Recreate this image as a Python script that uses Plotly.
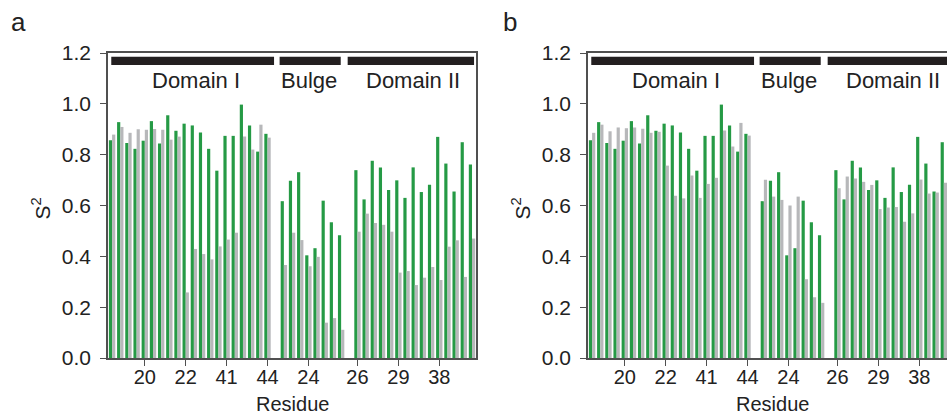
import plotly.graph_objects as go

# ---------------- data ----------------
segments = ["Domain I", "Bulge", "Domain II"]

# S2 values, green series (same in both panels)
green_domain_I = [0.857, 0.928, 0.846, 0.823, 0.855, 0.932, 0.844, 0.955, 0.894, 0.922,
                  0.915, 0.887, 0.823, 0.737, 0.874, 0.874, 0.997, 0.915, 0.812, 0.882]
green_bulge = [0.617, 0.697, 0.731, 0.404, 0.432, 0.619, 0.534, 0.483]
green_domain_II = [0.739, 0.624, 0.776, 0.750, 0.661, 0.699, 0.630, 0.750, 0.653, 0.682,
                   0.870, 0.765, 0.655, 0.849, 0.761]

# gray series, panel a
gray_a_domain_I = [0.879, 0.909, 0.886, 0.900, 0.898, 0.901, 0.898, 0.859, 0.871, 0.258,
                   0.429, 0.409, 0.388, 0.439, 0.466, 0.493, 0.871, 0.820, 0.918, 0.867]
gray_a_bulge = [0.366, 0.493, 0.464, 0.361, 0.398, 0.139, 0.157, 0.111]
gray_a_domain_II = [0.497, 0.568, 0.531, 0.524, 0.497, 0.336, 0.342, 0.287, 0.316, 0.358,
                    0.307, 0.438, 0.463, 0.319, 0.470]

# gray series, panel b
gray_b_domain_I = [0.886, 0.918, 0.892, 0.907, 0.904, 0.907, 0.902, 0.886, 0.890, 0.757,
                   0.638, 0.628, 0.718, 0.630, 0.685, 0.709, 0.895, 0.832, 0.925, 0.875]
gray_b_bulge = [0.701, 0.635, 0.622, 0.600, 0.635, 0.310, 0.239, 0.217]
gray_b_domain_II = [0.668, 0.714, 0.706, 0.693, 0.681, 0.586, 0.592, 0.594, 0.536, 0.569,
                    0.702, 0.647, 0.651, 0.690, 0.700]

# tick labels: (segment, index within segment, label)
tick_segments = ["Domain I", "Domain I", "Domain I", "Domain I", "Bulge",
                 "Domain II", "Domain II", "Domain II"]
tick_index = [4, 9, 14, 19, 3, 0, 5, 10]
tick_labels = ["20", "22", "41", "44", "24", "26", "29", "38"]

panel_labels = ["a", "b"]

# ---------------- build positions ----------------
green = [green_domain_I, green_bulge, green_domain_II]
gray_a = [gray_a_domain_I, gray_a_bulge, gray_a_domain_II]
gray_b = [gray_b_domain_I, gray_b_bulge, gray_b_domain_II]

seg_start = {}
xs = []
pos = 0
for name, vals in zip(segments, green):
    seg_start[name] = pos
    xs.extend(range(pos, pos + len(vals)))
    pos += len(vals) + 1  # one empty slot between segments
seg_end = {name: seg_start[name] + len(v) - 1 for name, v in zip(segments, green)}
last_slot = xs[-1]

def flat(lst):
    return [v for part in lst for v in part]

tickvals = [seg_start[s] + i for s, i in zip(tick_segments, tick_index)]

GREEN = "#259a45"
GRAY = "#b7b8ba"
FONT = "Liberation Sans, Arial, Helvetica, sans-serif"
AX = "#505050"

fig = go.Figure()
for gray, xa, ya in [(gray_a, "x", "y"), (gray_b, "x2", "y2")]:
    fig.add_trace(go.Bar(x=xs, y=flat(green), marker=dict(color=GREEN, line=dict(width=0)),
                         xaxis=xa, yaxis=ya, offsetgroup="g", showlegend=False))
    fig.add_trace(go.Bar(x=xs, y=flat(gray), marker=dict(color=GRAY, line=dict(width=0)),
                         xaxis=xa, yaxis=ya, offsetgroup="s", showlegend=False))

W, H = 947, 414
ml, mt, mb = 108, 53, 56
plot_w = W - ml
slot_px = 8.18
dom_a = [0, (last_slot + 1) * slot_px / plot_w]
b_left = 588.0
dom_b = [(b_left - ml) / plot_w, 1.0]
b_range_end = (W - b_left) / slot_px - 0.5

xcommon = dict(tickvals=tickvals, ticktext=tick_labels, ticks="outside", ticklen=6,
               tickwidth=1.3, tickcolor=AX, showline=True, linecolor=AX, linewidth=1.5,
               mirror=True, showgrid=False, zeroline=False, ticklabelstandoff=-6,
               tickfont=dict(family=FONT, size=20, color="#222"))
ycommon = dict(range=[0, 1.2], dtick=0.2, tickformat=".1f", ticks="outside", ticklen=6,
               tickwidth=1.3, tickcolor=AX, showline=True, linecolor=AX, linewidth=1.5,
               showgrid=False, zeroline=False, ticklabelstandoff=5,
               tickfont=dict(family=FONT, size=21, color="#222"))

fig.update_layout(
    width=W, height=H, margin=dict(l=ml, r=0, t=mt, b=mb),
    paper_bgcolor="white", plot_bgcolor="white",
    barmode="group", bargap=0.22, bargroupgap=0,
    xaxis=dict(domain=dom_a, range=[-0.5, last_slot + 0.5], anchor="y", **xcommon),
    yaxis=dict(domain=[0, 1], anchor="x", mirror=True, **ycommon),
    xaxis2=dict(domain=dom_b, range=[-0.5, b_range_end], anchor="y2", **xcommon),
    yaxis2=dict(domain=[0, 1], anchor="x2", mirror=False, **ycommon),
)

# domain bars and labels (extents / label shifts in slot units relative to segment)
bar_extent = {"Domain I": (-0.1, 0.8), "Bulge": (-0.52, -0.05), "Domain II": (-1.2, 0.25)}
label_shift = {"Domain I": 0.7, "Bulge": -0.45, "Domain II": -0.2}
shapes, annots = [], []
for xa, ya in [("x", "y"), ("x2", "y2")]:
    for s in segments:
        lo, hi = bar_extent[s]
        shapes.append(dict(type="rect", xref=xa, yref=ya, x0=seg_start[s] + lo,
                           x1=seg_end[s] + hi, y0=1.153, y1=1.185,
                           fillcolor="#231f20", line=dict(width=0), layer="above"))
        annots.append(dict(text=s, xref=xa, yref=ya,
                           x=(seg_start[s] + seg_end[s]) / 2 + label_shift[s],
                           y=1.09, showarrow=False, xanchor="center", yanchor="middle",
                           font=dict(family=FONT, size=22, color="#222")))
    annots.append(dict(text="Residue", xref=xa, yref="paper", x=last_slot / 2, y=-0.15,
                       showarrow=False, xanchor="center", yanchor="middle",
                       font=dict(family=FONT, size=20, color="#222")))

for lab, px in zip(panel_labels, [18, 510]):
    annots.append(dict(text=lab, xref="paper", yref="paper", x=(px - ml) / plot_w,
                       y=(H - mb - 22) / (H - mt - mb), showarrow=False,
                       xanchor="center", yanchor="middle",
                       font=dict(family=FONT, size=26, color="#222")))
for px in [41, 521]:
    annots.append(dict(text="S<sup>2</sup>", xref="paper", yref="paper",
                       x=(px - ml) / plot_w, y=0.49, textangle=-90, showarrow=False,
                       xanchor="center", yanchor="middle",
                       font=dict(family=FONT, size=21, color="#222")))

fig.update_layout(shapes=shapes, annotations=annots)
fig.write_html("out.html")
